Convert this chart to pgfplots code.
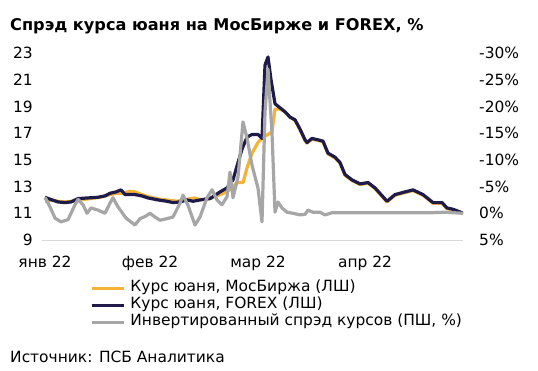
\documentclass[border=0pt]{standalone}
\usepackage{pgfplots}
\pgfplotsset{compat=1.18}
\usepackage{fontspec}
\setmainfont{DejaVu Sans}
\definecolor{cOrange}{HTML}{F5B335}
\definecolor{cNavy}{HTML}{1E1B4B}
\definecolor{cGrey}{HTML}{A6A6A6}
\definecolor{cAxis}{HTML}{D9D9D9}

\pgfplotstableread{
x y
45 12.2
52 12.0
58 11.85
65 11.8
71 11.85
78 12.1
88 12.15
98 12.2
105 12.3
110 12.5
116 12.6
121 12.75
125 12.4
135 12.4
142 12.3
148 12.15
158 12.0
167 11.9
173 11.8
180 11.85
187 12.0
193 11.9
200 12.0
210 12.1
216 12.4
220 12.6
227 12.9
233 13.5
238 14.8
242 15.8
247 16.7
252 16.9
258 16.9
262 16.6
265 22.1
268 22.7
271 21.0
275 19.2
280 18.9
285 18.6
290 18.2
295 18.0
300 17.3
305 16.5
307 16.3
312 16.6
318 16.5
323 16.4
328 15.5
335 15.2
340 14.8
345 13.9
352 13.5
360 13.2
368 13.3
375 12.9
381 12.4
387 11.9
395 12.4
405 12.6
413 12.75
423 12.4
433 11.8
442 11.8
447 11.4
453 11.3
460 11.1
463 11.0
}\forex

\pgfplotstableread{
x y
45 11.9
52 12.0
58 11.9
65 11.85
72 11.9
80 12.0
90 12.1
100 12.2
110 12.4
117 12.5
123 12.5
130 12.65
135 12.6
142 12.4
150 12.2
160 12.05
167 12.0
177 11.9
187 12.05
195 12.15
200 12.0
210 12.1
220 12.4
227 12.6
233 13.0
237 13.3
243 13.3
247 14.4
252 15.5
258 16.3
263 16.7
268 16.9
272 17.1
275 18.8
280 18.8
285 18.6
290 18.2
295 17.95
300 17.25
305 16.45
307 16.25
312 16.55
318 16.45
323 16.35
328 15.45
335 15.15
340 14.75
345 13.85
352 13.45
360 13.15
368 13.25
375 12.85
381 12.35
387 11.85
395 12.35
405 12.55
413 12.7
423 12.35
433 11.75
442 11.75
447 11.35
453 11.25
460 11.05
463 10.95
}\moex

\pgfplotstableread{
x y
45 -3.0
50 -1.2
55 0.9
61 1.6
68 1.2
75 -1.6
78 -2.6
83 -1.6
87 0.0
91 -1.0
98 -0.6
105 0.0
110 -1.9
113 -2.9
118 -1.2
126 0.9
135 2.2
140 1.0
145 0.6
150 0.0
155 0.7
160 1.3
167 1.0
173 0.7
180 -1.9
183 -3.4
188 -1.5
195 2.2
200 0.7
207 -2.9
212 -4.4
217 -2.5
222 -1.6
227 -3.1
230 -7.7
233 -2.9
238 -6.8
243 -17.1
247 -14.1
252 -9.0
258 -4.7
262 1.6
265 -19.0
268 -27.0
272 -15.0
275 -0.2
278 -2.1
282 -1.0
287 -0.2
293 0.0
300 0.3
305 0.2
308 -0.6
313 -0.2
320 -0.2
325 0.3
332 -0.1
350 -0.1
400 -0.1
430 -0.1
445 -0.2
463 0.0
}\spread

\begin{document}
\begin{tikzpicture}[x=1bp,y=1bp]
\path (0,0) rectangle (538,370);
\node[anchor=base west, inner sep=0pt, font=\fontsize{16.2}{19}\selectfont\bfseries] at (10,340) {Спрэд курса юаня на МосБирже и FOREX, \%};
\node[anchor=base west, inner sep=0pt, font=\fontsize{15.5}{18}\selectfont] at (10,8) {Источник: ПСБ Аналитика};

\begin{axis}[
  at={(42bp,130bp)}, anchor=south west, scale only axis,
  width=421bp, height=187bp,
  xmin=42, xmax=463, ymin=9, ymax=23,
  axis x line*=bottom, axis y line*=left,
  y axis line style={draw=none},
  x axis line style={draw=cAxis, line width=1bp, -},
  major tick length=0pt,
  xtick={45,150,258,365},
  xticklabels={янв 22, фев 22, мар 22, апр 22},
  ytick={9,11,...,23},
  yticklabels={9,11,13,15,17,19,21,23},
  xticklabel style={font=\fontsize{15.5}{18}\selectfont, anchor=base, inner sep=0pt, yshift=-27bp},
  yticklabel style={font=\fontsize{15.5}{18}\selectfont, anchor=east, inner sep=0pt, xshift=-9bp},
  legend cell align=left,
  legend style={at={(0.114,-0.211)}, anchor=north west, draw=none, fill=none,
    inner sep=0pt, font=\fontsize{15.5}{18}\selectfont,
    nodes={inner sep=0pt, text height=12bp, text depth=5bp},
    /tikz/every odd column/.append style={column sep=5bp}},
  legend image code/.code={\draw[#1] (0bp,0bp) -- (32bp,0bp);},
]
\addplot[cOrange, line width=3.2bp, line join=round] table {\moex};
\addlegendentry{Курс юаня, МосБиржа (ЛШ)}
\addplot[cNavy, line width=3.2bp, line join=round] table {\forex};
\addlegendentry{Курс юаня, FOREX (ЛШ)}
\addlegendimage{cGrey, line width=3.2bp}
\addlegendentry{Инвертированный спрэд курсов (ПШ, \%)}
\end{axis}

\begin{axis}[
  at={(42bp,130bp)}, anchor=south west, scale only axis,
  width=421bp, height=187bp,
  xmin=42, xmax=463, ymin=-30, ymax=5, y dir=reverse,
  axis x line=none, axis y line*=right,
  y axis line style={draw=none},
  major tick length=0pt,
  ytick={-30,-25,...,5},
  yticklabels={-30\%,-25\%,-20\%,-15\%,-10\%,-5\%,0\%,5\%},
  yticklabel style={font=\fontsize{15.5}{18}\selectfont, anchor=west, inner sep=0pt, xshift=16bp},
]
\addplot[cGrey, line width=3.2bp, line join=round] table {\spread};
\end{axis}
\end{tikzpicture}
\end{document}
